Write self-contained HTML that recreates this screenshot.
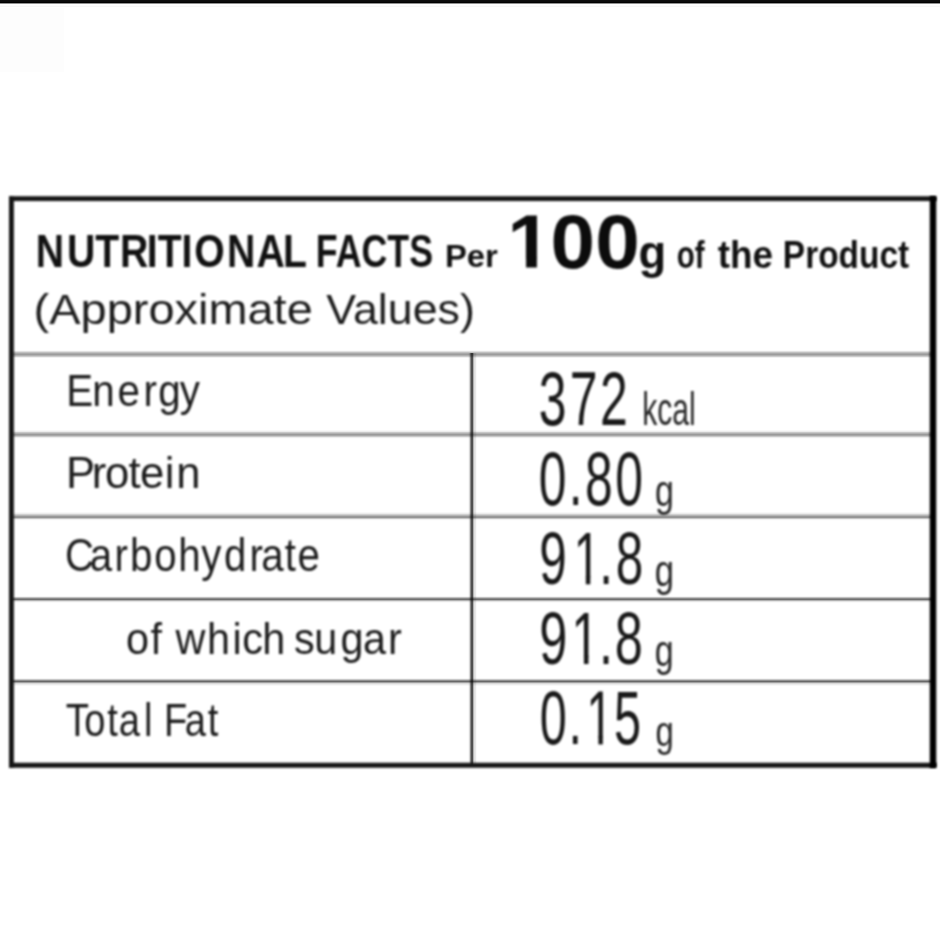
<!DOCTYPE html>
<html lang="en"><head><meta charset="utf-8"><title>Nutritional Facts</title>
<style>html,body{margin:0;padding:0;background:#fff}body{width:940px;height:935px;overflow:hidden}svg{display:block}text{font-family:"Liberation Sans",sans-serif;white-space:pre}</style></head><body>
<svg width="940" height="935" viewBox="0 0 940 935">
<defs><filter id="soft" color-interpolation-filters="sRGB" x="-2%" y="-2%" width="104%" height="104%"><feGaussianBlur stdDeviation="0.85"/></filter><filter id="soft2" x="-100%" y="-2%" width="300%" height="104%"><feGaussianBlur stdDeviation="1.15"/></filter></defs>
<rect width="940" height="935" fill="#fff"/>
<rect x="0" y="8" width="64" height="64" fill="#fdfdfd"/>
<g shape-rendering="crispEdges">
<rect x="0" y="0" width="940" height="1" fill="#000" fill-opacity="0.953"/>
<rect x="0" y="1" width="940" height="1" fill="#000" fill-opacity="0.961"/>
<rect x="0" y="2" width="940" height="1" fill="#000" fill-opacity="1.000"/>
<rect x="0" y="3" width="940" height="1" fill="#000" fill-opacity="0.435"/>
<rect x="0" y="6" width="940" height="1" fill="#f7f7f7"/>
<rect x="0" y="5" width="940" height="1" fill="#fdfdfd"/>
<rect x="11" y="350" width="922" height="1" fill="#000" fill-opacity="0.020"/>
<rect x="11" y="351" width="922" height="1" fill="#000" fill-opacity="0.122"/>
<rect x="11" y="352" width="922" height="1" fill="#000" fill-opacity="0.247"/>
<rect x="11" y="353" width="922" height="1" fill="#000" fill-opacity="0.341"/>
<rect x="11" y="354" width="922" height="1" fill="#000" fill-opacity="0.388"/>
<rect x="11" y="355" width="922" height="1" fill="#000" fill-opacity="0.310"/>
<rect x="11" y="356" width="922" height="1" fill="#000" fill-opacity="0.200"/>
<rect x="11" y="357" width="922" height="1" fill="#000" fill-opacity="0.059"/>
<rect x="11" y="430" width="922" height="1" fill="#000" fill-opacity="0.027"/>
<rect x="11" y="431" width="922" height="1" fill="#000" fill-opacity="0.075"/>
<rect x="11" y="432" width="922" height="1" fill="#000" fill-opacity="0.216"/>
<rect x="11" y="433" width="922" height="1" fill="#000" fill-opacity="0.310"/>
<rect x="11" y="434" width="922" height="1" fill="#000" fill-opacity="0.396"/>
<rect x="11" y="435" width="922" height="1" fill="#000" fill-opacity="0.341"/>
<rect x="11" y="436" width="922" height="1" fill="#000" fill-opacity="0.216"/>
<rect x="11" y="437" width="922" height="1" fill="#000" fill-opacity="0.075"/>
<rect x="11" y="438" width="922" height="1" fill="#000" fill-opacity="0.012"/>
<rect x="11" y="512" width="922" height="1" fill="#000" fill-opacity="0.027"/>
<rect x="11" y="513" width="922" height="1" fill="#000" fill-opacity="0.075"/>
<rect x="11" y="514" width="922" height="1" fill="#000" fill-opacity="0.184"/>
<rect x="11" y="515" width="922" height="1" fill="#000" fill-opacity="0.294"/>
<rect x="11" y="516" width="922" height="1" fill="#000" fill-opacity="0.404"/>
<rect x="11" y="517" width="922" height="1" fill="#000" fill-opacity="0.412"/>
<rect x="11" y="518" width="922" height="1" fill="#000" fill-opacity="0.231"/>
<rect x="11" y="519" width="922" height="1" fill="#000" fill-opacity="0.059"/>
<rect x="11" y="520" width="922" height="1" fill="#000" fill-opacity="0.008"/>
<rect x="11" y="596" width="922" height="1" fill="#000" fill-opacity="0.043"/>
<rect x="11" y="597" width="922" height="1" fill="#000" fill-opacity="0.247"/>
<rect x="11" y="598" width="922" height="1" fill="#000" fill-opacity="0.459"/>
<rect x="11" y="599" width="922" height="1" fill="#000" fill-opacity="0.561"/>
<rect x="11" y="600" width="922" height="1" fill="#000" fill-opacity="0.310"/>
<rect x="11" y="601" width="922" height="1" fill="#000" fill-opacity="0.106"/>
<rect x="11" y="602" width="922" height="1" fill="#000" fill-opacity="0.020"/>
<rect x="11" y="678" width="922" height="1" fill="#000" fill-opacity="0.043"/>
<rect x="11" y="679" width="922" height="1" fill="#000" fill-opacity="0.216"/>
<rect x="11" y="680" width="922" height="1" fill="#000" fill-opacity="0.435"/>
<rect x="11" y="681" width="922" height="1" fill="#000" fill-opacity="0.592"/>
<rect x="11" y="682" width="922" height="1" fill="#000" fill-opacity="0.373"/>
<rect x="11" y="683" width="922" height="1" fill="#000" fill-opacity="0.153"/>
<rect x="11" y="684" width="922" height="1" fill="#000" fill-opacity="0.075"/>
<rect x="11" y="685" width="922" height="1" fill="#000" fill-opacity="0.027"/>
<rect x="468" y="353" width="1" height="412" fill="#000" fill-opacity="0.027"/>
<rect x="469" y="353" width="1" height="412" fill="#000" fill-opacity="0.153"/>
<rect x="470" y="353" width="1" height="412" fill="#000" fill-opacity="0.459"/>
<rect x="471" y="353" width="1" height="412" fill="#000" fill-opacity="0.686"/>
<rect x="472" y="353" width="1" height="412" fill="#000" fill-opacity="0.686"/>
<rect x="473" y="353" width="1" height="412" fill="#000" fill-opacity="0.310"/>
<rect x="474" y="353" width="1" height="412" fill="#000" fill-opacity="0.122"/>
<rect x="475" y="353" width="1" height="412" fill="#000" fill-opacity="0.090"/>
<rect x="476" y="353" width="1" height="412" fill="#000" fill-opacity="0.020"/>
</g>
<g filter="url(#soft)">
<rect x="8.99" y="196.22" width="4.9" height="571.5" fill="#141414"/>
<rect x="8.99" y="196.22" width="927.3" height="4.85" fill="#141414"/>
<rect x="8.99" y="762.74" width="927.3" height="5" fill="#141414"/>
<text transform="translate(0 267.3) scale(0.3920 0.4657)" x="91.09 171.21 243.16 306.06 374.63 402.34 463.15 495.72 578.97 654.53 722.12" y="0" font-size="100" font-weight="bold" fill="#111">NUTRITIONAL</text>
<text transform="translate(315.8 267.3) scale(0.3578 0.4657)" font-size="100" font-weight="bold" fill="#111">FACTS</text>
<text transform="translate(445 267.2) scale(0.3279 0.3192)" font-size="100" font-weight="bold" fill="#111">Per</text>
<text transform="translate(0 267.5) scale(0.8014 0.7514)" x="632.97 686.92 742.7" y="0" font-size="100" font-weight="bold" fill="#0c0c0c">100</text>
<rect x="510.3" y="258.79" width="41.29" height="10.21" fill="#fff"/>
<rect x="526.08" y="257.29" width="10.82" height="10.21" fill="#0c0c0c"/>
<text transform="translate(638.53 268.42) scale(0.4538 0.4596)" font-size="100" font-weight="bold" fill="#111">g</text>
<text transform="translate(676.74 267.7) scale(0.2954 0.3903)" font-size="100" font-weight="bold" fill="#111">of</text>
<text transform="translate(717.65 267.7) scale(0.3688 0.3903)" font-size="100" font-weight="bold" fill="#111">the</text>
<text transform="translate(782.86 267.7) scale(0.3342 0.3903)" font-size="100" font-weight="bold" fill="#111">Product</text>
<text transform="translate(33.58 323.9) scale(0.4696 0.4262)" font-size="100" fill="#1c1c1c">(Approximate</text>
<text transform="translate(326.35 323.9) scale(0.4478 0.4262)" font-size="100" fill="#1c1c1c">Values)</text>
<text transform="translate(0 406) scale(0.4034 0.4493)" x="164.3 228.89 291.28 355.87 392.21 445.68" y="0" font-size="100" fill="#1c1c1c">Energy</text>
<text transform="translate(0 488) scale(0.4365 0.4414)" x="151.25 210.41 240.82 294.2 320.86 377.36 404.07" y="0" font-size="100" fill="#1c1c1c">Protein</text>
<text transform="translate(0 571) scale(0.4022 0.4579)" x="161.74 223.04 284.55 323 383.43 443.37 500.22 556.74 620.45 649.81 708.23 739.43" y="0" font-size="100" fill="#1c1c1c">Carbohydrate</text>
<text transform="translate(0 653.8) scale(0.4141 0.4497)" x="304.5 363.53 393.53 424.04 499.78 561.52 585.13 633.09 663.09 710.03 759.1 822.21 876.54 936.72" y="0" font-size="100" fill="#1c1c1c">of which sugar</text>
<text transform="translate(0 736.1) scale(0.3812 0.4538)" x="172.71 220.87 281.48 311.34 377.88 407.88 430.13 484.47 545.24" y="0" font-size="100" fill="#1c1c1c">Total Fat</text>
<text transform="translate(0 424.5) scale(0.4997 0.7514)" x="1078.29 1140.12 1200.9" y="0" font-size="100" fill="#181818">372</text>
<text transform="translate(642.27 424.6) scale(0.3011 0.4607)" font-size="100" fill="#262626">kcal</text>
<text transform="translate(0 505.1) scale(0.4983 0.7516)" x="1080.98 1141.34 1174.1 1234.51" y="0" font-size="100" fill="#181818">0.80</text>
<text transform="translate(654.97 506.14) scale(0.3405 0.4503)" font-size="100" fill="#262626">g</text>
<text transform="translate(0 584.3) scale(0.4943 0.7473)" x="1091.02 1160.26 1212.43 1245.76" y="0" font-size="100" fill="#181818">91.8</text>
<rect x="575.26" y="577.5" width="25.31" height="8.3" fill="#fff"/>
<rect x="585.85" y="576" width="4.45" height="8.3" fill="#181818"/>
<text transform="translate(654.74 586.42) scale(0.3472 0.4369)" font-size="100" fill="#262626">g</text>
<text transform="translate(0 664) scale(0.5050 0.7501)" x="1067.91 1131.29 1186.04 1217.18" y="0" font-size="100" fill="#181818">91.8</text>
<rect x="573.18" y="657.17" width="25.77" height="8.33" fill="#fff"/>
<rect x="583.95" y="655.67" width="4.55" height="8.33" fill="#181818"/>
<text transform="translate(654.87 666) scale(0.3405 0.4382)" font-size="100" fill="#262626">g</text>
<text transform="translate(0 744.4) scale(0.4862 0.7571)" x="1110.37 1169.21 1205.88 1263.01" y="0" font-size="100" fill="#181818">0.15</text>
<rect x="587.98" y="737.52" width="24.96" height="8.38" fill="#fff"/>
<rect x="598.42" y="736.02" width="4.38" height="8.38" fill="#181818"/>
<text transform="translate(655.41 746.22) scale(0.3294 0.4275)" font-size="100" fill="#262626">g</text>
</g>
<rect x="929.75" y="196.3" width="6.5" height="571.4" fill="#000" filter="url(#soft2)"/>
</svg>
</body></html>
